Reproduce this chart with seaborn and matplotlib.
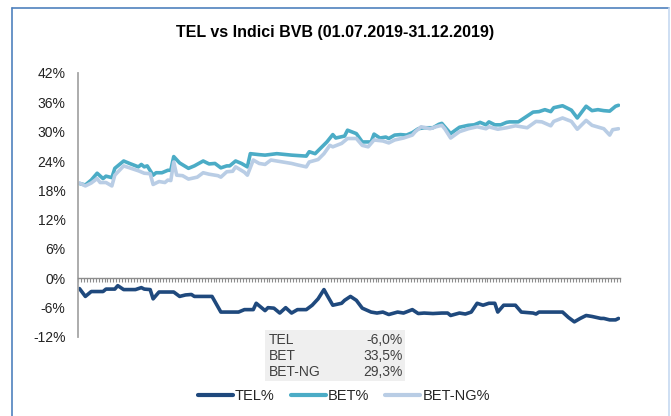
import pandas as pd
import matplotlib
matplotlib.use("Agg")
import matplotlib.pyplot as plt
from matplotlib.lines import Line2D
from matplotlib.patches import Rectangle
from matplotlib.ticker import FuncFormatter
import seaborn as sns

# -----------------------------
# Data: day offset from 01.07.2019, performance in %
# -----------------------------
tel_day = [0, 2, 4, 8, 9, 12, 13, 15, 19, 21, 22, 24, 25, 27, 32, 34, 36, 38, 39, 45,
           48, 54, 56, 59, 60, 63, 64, 66, 68, 70, 72, 74, 77, 79, 81, 83, 84, 86, 89, 90,
           92, 94, 96, 99, 101, 103, 105, 108, 110, 113, 115, 117, 120, 123, 125, 126, 129,
           131, 133, 135, 137, 139, 141, 142, 144, 148, 150, 154, 155, 156, 164, 166, 168,
           170, 172, 174, 177, 178, 180, 182, 183]
tel_val = [-2.1, -3.7, -2.7, -2.7, -2.2, -2.2, -1.5, -2.3, -2.3, -1.9, -2.2, -2.3, -4.2, -2.8,
           -2.8, -3.7, -3.4, -3.3, -3.7, -3.7, -6.9, -6.9, -6.4, -6.4, -5.1, -6.6, -6.0, -6.1,
           -7.1, -6.0, -7.1, -6.4, -6.4, -5.5, -4.2, -2.3, -3.4, -5.5, -5.1, -4.5, -3.7, -4.5,
           -6.1, -6.9, -7.1, -6.9, -7.4, -6.9, -7.1, -6.4, -7.2, -7.1, -7.2, -7.1, -7.1, -7.6,
           -7.1, -7.3, -6.9, -5.1, -5.5, -5.1, -5.1, -6.9, -5.5, -5.5, -6.9, -7.1, -7.3, -6.9,
           -6.9, -8.0, -8.9, -8.2, -7.6, -7.8, -8.2, -8.2, -8.5, -8.5, -8.2]

bet_day = [0, 2, 4, 6, 8, 9, 11, 12, 15, 17, 20, 21, 22, 23, 25, 26, 28, 30, 31, 32, 34, 37,
           39, 42, 44, 46, 48, 50, 51, 53, 55, 57, 58, 61, 63, 67, 72, 77, 78, 80, 82, 84, 86,
           87, 90, 91, 94, 96, 99, 100, 102, 104, 105, 107, 109, 111, 113, 115, 117, 120, 122,
           123, 124, 126, 129, 132, 134, 136, 138, 139, 141, 143, 145, 146, 149, 151, 154, 156,
           158, 160, 161, 164, 167, 169, 172, 174, 176, 178, 180, 182, 183]
bet_val = [19.4, 19.1, 20.1, 21.5, 20.4, 20.9, 20.6, 22.5, 24.0, 23.5, 22.8, 23.3, 22.8, 23.0,
           21.1, 21.6, 21.6, 22.1, 22.1, 24.9, 23.6, 22.5, 23.0, 24.0, 23.4, 23.5, 22.6, 23.0,
           23.0, 24.0, 23.5, 22.8, 25.5, 25.3, 25.2, 25.5, 25.2, 25.0, 25.9, 25.5, 26.7, 27.9,
           29.4, 28.7, 29.1, 30.3, 29.6, 27.9, 27.9, 29.5, 28.7, 28.9, 28.6, 29.3, 29.4, 29.3,
           29.8, 30.6, 30.8, 30.8, 31.5, 31.7, 31.0, 29.6, 30.9, 31.3, 31.4, 31.9, 31.4, 32.0,
           31.4, 31.4, 31.9, 32.0, 32.0, 32.8, 34.0, 34.1, 34.5, 34.1, 34.9, 35.3, 34.4, 32.8,
           35.2, 34.3, 34.5, 34.3, 34.2, 35.2, 35.4]

ng_day = [0, 2, 4, 6, 7, 9, 11, 12, 15, 17, 20, 22, 24, 25, 27, 29, 30, 31, 32, 33, 35, 37,
          40, 42, 44, 47, 48, 50, 52, 53, 56, 57, 59, 61, 63, 65, 69, 72, 74, 77, 78, 81, 83,
          85, 86, 89, 91, 94, 96, 98, 100, 103, 105, 107, 110, 113, 114, 116, 119, 121, 123,
          124, 126, 129, 132, 135, 138, 139, 142, 145, 148, 152, 155, 157, 160, 161, 164, 167,
          169, 172, 174, 178, 180, 181, 183]
ng_val = [19.5, 18.9, 19.5, 20.4, 19.6, 19.6, 18.9, 21.1, 23.0, 22.6, 22.0, 21.5, 21.4, 19.2,
          19.8, 19.6, 20.1, 20.0, 23.8, 21.1, 21.0, 20.3, 20.7, 21.6, 21.3, 21.0, 20.7, 21.8,
          21.9, 22.8, 21.7, 21.1, 24.2, 23.5, 23.3, 24.2, 23.8, 23.5, 23.2, 22.8, 23.8, 24.3,
          25.5, 27.2, 26.9, 27.6, 28.6, 28.6, 27.2, 26.9, 28.3, 28.1, 27.7, 28.3, 28.7, 29.3,
          30.0, 31.0, 30.6, 31.0, 31.3, 30.6, 28.7, 30.0, 30.6, 31.0, 30.6, 31.0, 30.5, 30.8,
          31.2, 30.8, 32.1, 32.0, 31.2, 32.1, 32.8, 32.1, 30.5, 32.3, 31.3, 30.6, 29.3, 30.4,
          30.6]

series_names = ["TEL%", "BET%", "BET-NG%"]
series_colors = ["#1F497D", "#4BACC6", "#B9CDE5"]
summary_names = ["TEL", "BET", "BET-NG"]
summary_values = ["-6,0%", "33,5%", "29,3%"]
y_ticks = [-12, -6, 0, 6, 12, 18, 24, 30, 36, 42]
n_days = 184
title = "TEL vs Indici BVB (01.07.2019-31.12.2019)"

# -----------------------------
# Build long table for seaborn
# -----------------------------
frames = []
for name, days, vals in zip(series_names, [tel_day, bet_day, ng_day], [tel_val, bet_val, ng_val]):
    frames.append(pd.DataFrame({"day": days, "value": vals, "series": name}))
df = pd.concat(frames, ignore_index=True)

sns.set_theme(style="white")
plt.rcParams["font.family"] = ["Liberation Sans", "DejaVu Sans"]

fig = plt.figure(figsize=(6.71, 4.16), dpi=100)
ax = fig.add_axes([78 / 671, 1 - 337 / 416, (620 - 78) / 671, (337 - 73) / 416])

sns.lineplot(data=df, x="day", y="value", hue="series", hue_order=series_names,
             palette=series_colors, linewidth=2.6, sort=False, ax=ax)

# axes styling, Excel-like
ax.set_xlim(-0.5, n_days - 0.5)
ax.set_ylim(-12, 42)
ax.set_yticks(y_ticks)
ax.yaxis.set_major_formatter(FuncFormatter(lambda v, p: f"{v:.0f}%"))
ax.tick_params(axis="y", left=False, length=0, pad=9, labelsize=10, labelcolor="#222222")
ax.set_xticks([d - 0.5 for d in range(n_days + 1)])
ax.set_xticklabels([])
ax.tick_params(axis="x", bottom=True, direction="out", length=3, width=0.8, color="#8c8c8c")
ax.set_xlabel("")
ax.set_ylabel("")
for side in ["top", "right"]:
    ax.spines[side].set_visible(False)
ax.spines["left"].set_color("#a6a6a6")
ax.spines["left"].set_linewidth(1.3)
ax.spines["bottom"].set_position(("data", 0))
ax.spines["bottom"].set_color("#8c8c8c")
ax.spines["bottom"].set_linewidth(1.0)

# legend at the bottom
handles, labels = ax.get_legend_handles_labels()
ax.legend_.remove()
leg = fig.legend(handles, labels, loc="center", bbox_to_anchor=(344 / 671, 1 - 396 / 416),
                 ncol=3, frameon=False, fontsize=10.5, handlelength=2.4, handletextpad=0.15,
                 columnspacing=1.1)
for h in leg.get_lines():
    h.set_linewidth(3)

# summary box
fig.add_artist(Rectangle((265 / 671, 1 - 381 / 416), 140 / 671, 51 / 416,
                         transform=fig.transFigure, facecolor="#efefef", edgecolor="none", zorder=3))
for i, (n, v) in enumerate(zip(summary_names, summary_values)):
    y = 1 - (340 + i * 16) / 416
    fig.text(269 / 671, y, n, ha="left", va="center", fontsize=10, color="#404040", zorder=4)
    fig.text(403 / 671, y, v, ha="right", va="center", fontsize=10, color="#404040", zorder=4)

fig.text(335 / 671, 1 - 32 / 416, title, ha="center", va="center", fontsize=11.5,
         fontweight="bold", color="black")

# outer frame
fig.add_artist(Line2D([12 / 671, 12 / 671], [0, 1 - 8 / 416], color="#4F81BD", lw=1.2))
fig.add_artist(Line2D([12 / 671, 669 / 671], [1 - 8 / 416, 1 - 8 / 416], color="#4F81BD", lw=1.2))
fig.add_artist(Line2D([669 / 671, 669 / 671], [0, 1 - 8 / 416], color="#C6D9F1", lw=1.2))

fig.savefig("out.png", dpi=100)
